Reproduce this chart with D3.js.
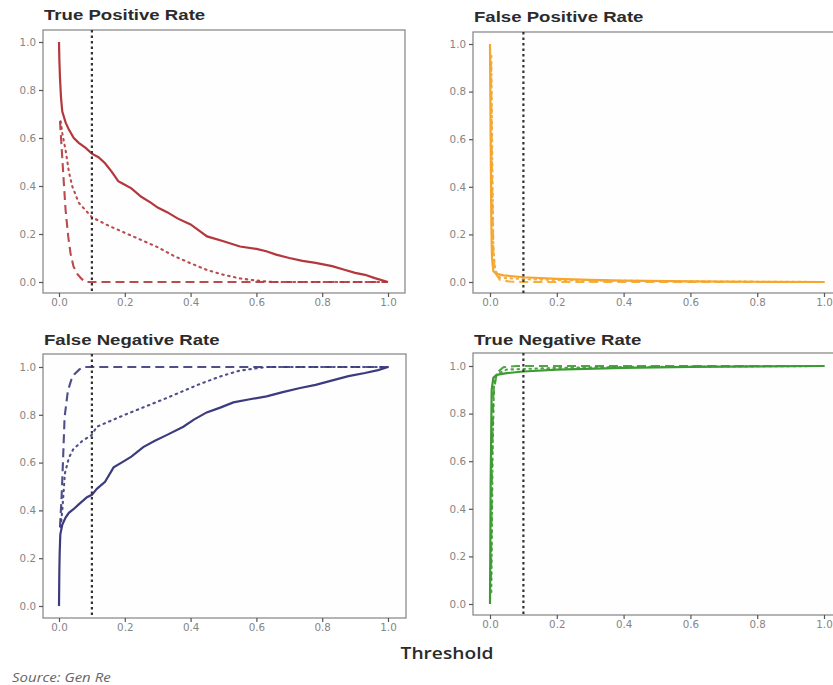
<!DOCTYPE html>
<html>
<head>
<meta charset="utf-8">
<script src="https://cdn.jsdelivr.net/npm/d3@7"></script>
<style>
  body { margin: 0; background: #fff; }
  svg { display: block; }
</style>
</head>
<body>
<div id="chart"></div>
<script>
// values
const thresholdCut = 0.1;
const xTicks = [0, 0.2, 0.4, 0.6, 0.8, 1.0];
const yTicks = [0, 0.2, 0.4, 0.6, 0.8, 1.0];
const panelTitles = ['True Positive Rate', 'False Positive Rate', 'False Negative Rate', 'True Negative Rate'];

const tprSolid = [[0,1.0],[0.001,0.93],[0.003,0.85],[0.006,0.77],[0.01,0.71],[0.02,0.665],[0.03,0.635],[0.045,0.6],[0.06,0.58],[0.08,0.56],[0.1,0.535],[0.12,0.52],[0.14,0.495],[0.16,0.46],[0.18,0.42],[0.2,0.405],[0.22,0.39],[0.25,0.355],[0.28,0.33],[0.3,0.31],[0.33,0.29],[0.36,0.265],[0.4,0.24],[0.43,0.21],[0.45,0.19],[0.5,0.17],[0.55,0.148],[0.6,0.138],[0.63,0.128],[0.66,0.114],[0.7,0.1],[0.74,0.088],[0.78,0.08],[0.83,0.066],[0.87,0.05],[0.9,0.038],[0.93,0.03],[0.96,0.016],[1.0,0.0]];
const tprDotted = [[0.005,0.67],[0.01,0.62],[0.02,0.55],[0.03,0.46],[0.04,0.4],[0.06,0.33],[0.08,0.3],[0.1,0.27],[0.15,0.235],[0.2,0.205],[0.25,0.175],[0.3,0.145],[0.35,0.108],[0.4,0.078],[0.45,0.05],[0.5,0.03],[0.55,0.015],[0.6,0.006],[0.65,0.0],[1.0,0.0]];
const tprDashed = [[0.003,0.67],[0.008,0.56],[0.013,0.45],[0.02,0.3],[0.028,0.19],[0.035,0.12],[0.044,0.065],[0.055,0.035],[0.068,0.014],[0.08,0.0],[1.0,0.0]];

const fprSolid = [[0,1.0],[0.002,0.6],[0.004,0.25],[0.006,0.1],[0.01,0.045],[0.02,0.034],[0.04,0.028],[0.1,0.02],[0.2,0.013],[0.3,0.009],[0.4,0.006],[0.6,0.003],[0.8,0.001],[1.0,0.0]];
const fprDotted = [[0.004,0.95],[0.007,0.5],[0.01,0.15],[0.015,0.05],[0.03,0.018],[0.1,0.012],[0.2,0.008],[0.4,0.005],[0.7,0.002],[1.0,0.0]];
const fprDashed = [[0.003,0.92],[0.006,0.45],[0.01,0.12],[0.015,0.04],[0.03,0.008],[0.06,0.002],[0.1,0.0],[1.0,0.0]];

const fnrSolid = [[0,0.0],[0.001,0.14],[0.002,0.22],[0.004,0.3],[0.01,0.34],[0.02,0.37],[0.03,0.39],[0.044,0.405],[0.06,0.425],[0.085,0.455],[0.1,0.465],[0.115,0.49],[0.14,0.52],[0.166,0.58],[0.19,0.6],[0.22,0.625],[0.256,0.665],[0.29,0.69],[0.327,0.715],[0.378,0.75],[0.41,0.78],[0.449,0.81],[0.49,0.83],[0.53,0.852],[0.58,0.865],[0.631,0.877],[0.68,0.895],[0.733,0.912],[0.78,0.925],[0.834,0.945],[0.88,0.962],[0.93,0.975],[0.97,0.987],[1.0,1.0]];
const fnrDotted = [[0.005,0.33],[0.01,0.4],[0.018,0.555],[0.03,0.62],[0.043,0.655],[0.07,0.69],[0.099,0.715],[0.115,0.75],[0.2,0.8],[0.327,0.87],[0.43,0.93],[0.5,0.965],[0.55,0.985],[0.63,1.0],[1.0,1.0]];
const fnrDashed = [[0.003,0.33],[0.008,0.46],[0.012,0.6],[0.017,0.79],[0.027,0.9],[0.037,0.945],[0.047,0.97],[0.062,0.99],[0.075,1.0],[1.0,1.0]];

const tnrSolid = [[0,0.0],[0.002,0.5],[0.005,0.9],[0.01,0.95],[0.02,0.963],[0.05,0.97],[0.1,0.977],[0.2,0.985],[0.4,0.992],[0.6,0.996],[1.0,1.0]];
const tnrDotted = [[0.004,0.05],[0.008,0.65],[0.012,0.92],[0.02,0.965],[0.05,0.985],[0.2,0.992],[0.4,0.996],[1.0,1.0]];
const tnrDashed = [[0.003,0.1],[0.006,0.6],[0.01,0.88],[0.02,0.97],[0.04,0.995],[0.08,1.0],[1.0,1.0]];

const colors = ['#b3373c', '#f5a62c', '#3b3b7e', '#3e9a33'];

const width = 833, height = 685;
const svg = d3.select('#chart').append('svg')
  .attr('width', width)
  .attr('height', height);

// the source image is a bit stretched sideways, so text gets a horizontal scale
function stretchedText(sel, x, y, sx) {
  return sel.append('text')
    .attr('transform', 'translate(' + x + ',' + y + ') scale(' + sx + ',1)');
}

// box = panel frame, xr / yr = where 0 and 1 land
const panels = [
  { title: panelTitles[0], color: colors[0], series: [tprSolid, tprDotted, tprDashed],
    box: [43, 405, 30, 293], xr: [59, 388], yr: [282, 42], titleY: 20 },
  { title: panelTitles[1], color: colors[1], series: [fprSolid, fprDotted, fprDashed],
    box: [473, 845, 32, 293], xr: [490, 824], yr: [282, 44], titleY: 22 },
  { title: panelTitles[2], color: colors[2], series: [fnrSolid, fnrDotted, fnrDashed],
    box: [43, 406, 354, 618], xr: [59, 388], yr: [606, 367], titleY: 345 },
  { title: panelTitles[3], color: colors[3], series: [tnrSolid, tnrDotted, tnrDashed],
    box: [473, 845, 353, 615], xr: [490, 824], yr: [604, 366], titleY: 345 }
];

const dashes = [null, '1.5,4.5', '9,5'];
const fmt = d3.format('.1f');

panels.forEach(function(p) {
  const [l, r, t, b] = p.box;
  const x = d3.scaleLinear().domain([0, 1]).range(p.xr);
  const y = d3.scaleLinear().domain([0, 1]).range(p.yr);
  const g = svg.append('g');

  g.append('rect')
    .attr('x', l).attr('y', t)
    .attr('width', r - l).attr('height', b - t)
    .attr('fill', '#fefefe')
    .attr('stroke', '#8c8c8c')
    .attr('stroke-width', 1.3);

  stretchedText(g, l + 1, p.titleY, 1.2)
    .attr('font-family', 'Liberation Sans, Arial, sans-serif')
    .attr('font-size', 15.5)
    .attr('font-weight', 'bold')
    .attr('fill', '#2b2b2b')
    .text(p.title);

  const yAxis = g.append('g')
    .attr('transform', 'translate(' + l + ',0)')
    .call(d3.axisLeft(y).tickValues(yTicks).tickFormat(fmt).tickSize(4).tickPadding(3));
  const xAxis = g.append('g')
    .attr('transform', 'translate(0,' + b + ')')
    .call(d3.axisBottom(x).tickValues(xTicks).tickFormat(fmt).tickSize(4).tickPadding(2));
  [xAxis, yAxis].forEach(function(a) {
    a.select('.domain').remove();
    a.selectAll('line').attr('stroke', '#555').attr('stroke-width', 1.2);
    a.selectAll('text')
      .attr('font-family', 'DejaVu Sans, sans-serif')
      .attr('font-size', 10.3)
      .attr('fill', '#858585');
  });

  const line = d3.line().x(d => x(d[0])).y(d => y(d[1]));
  p.series.forEach(function(s, i) {
    g.append('path')
      .datum(s)
      .attr('d', line)
      .attr('fill', 'none')
      .attr('stroke', p.color)
      .attr('stroke-width', i === 0 ? 2.2 : 2.1)
      .attr('stroke-dasharray', dashes[i])
      .attr('stroke-linecap', i === 1 ? 'round' : 'butt')
      .attr('opacity', i === 0 ? 1 : 0.9);
  });

  g.append('line')
    .attr('x1', x(thresholdCut)).attr('x2', x(thresholdCut))
    .attr('y1', t).attr('y2', b)
    .attr('stroke', '#333')
    .attr('stroke-width', 2.2)
    .attr('stroke-dasharray', '2.5,3');
});

stretchedText(svg, 447, 659, 1.13)
  .attr('text-anchor', 'middle')
  .attr('font-family', 'Open Sans, sans-serif')
  .attr('font-size', 17)
  .attr('font-weight', 600)
  .attr('fill', '#2a2a2a')
  .text('Threshold');

stretchedText(svg, 12, 682, 1.2)
  .attr('font-family', 'Open Sans, sans-serif')
  .attr('font-size', 12.5)
  .attr('font-style', 'italic')
  .attr('fill', '#666')
  .text('Source: Gen Re');
</script>
</body>
</html>
